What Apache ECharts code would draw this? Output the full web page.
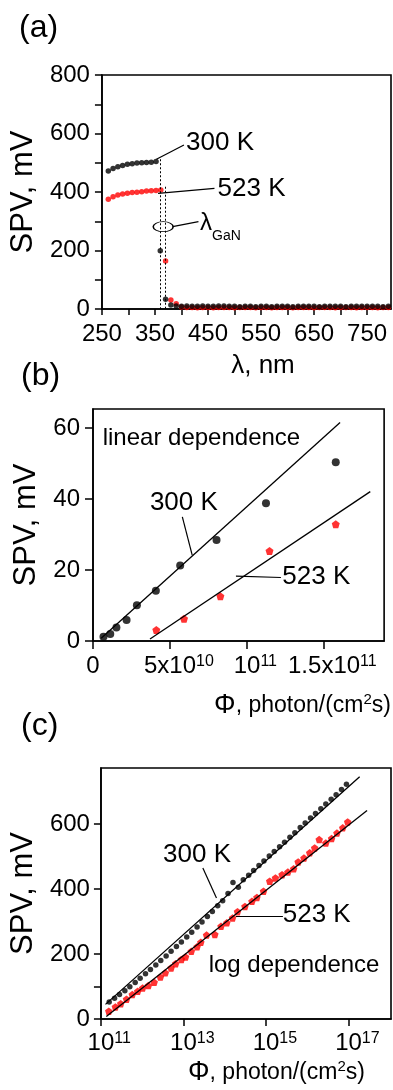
<!DOCTYPE html>
<html>
<head>
<meta charset="utf-8">
<script src="https://cdn.jsdelivr.net/npm/echarts@6/dist/echarts.min.js"></script>
<style>
  html, body { margin: 0; padding: 0; background: #fff; }
  #chart { width: 393px; height: 1090px; }
</style>
</head>
<body>
<div id="chart"></div>
<script>
// (a) SPV spectra, wavelength in nm
const wl300 = [262, 271, 280, 289, 298, 307, 316, 325, 334, 343, 352, 360, 370, 380,
  390, 400, 410, 420, 430, 440, 450, 460, 470, 480, 490, 500, 510, 520, 530, 540, 550,
  560, 570, 580, 590, 600, 610, 620, 630, 640, 650, 660, 670, 680, 690, 700, 710, 720,
  730, 740, 750, 760, 770, 780, 790];
const spv300 = [472, 480, 486, 491, 495, 497, 499, 500, 501, 502, 504, 199, 33, 14,
  10, 9, 10, 9, 9, 10, 9, 9, 10, 10, 9, 9, 8, 9, 9, 8, 9, 9, 8, 9, 9,
  9, 8, 9, 9, 9, 9, 8, 9, 9, 9, 9, 8, 9, 9, 9, 9, 9, 9, 8, 9];
const wl523 = [262, 271, 280, 289, 298, 307, 316, 325, 334, 343, 352, 361, 370, 380,
  390, 400, 410, 420, 430, 440, 450, 460, 470, 480, 490, 500, 510, 520, 530, 540, 550,
  560, 570, 580, 590, 600, 610, 620, 630, 640, 650, 660, 670, 680, 690, 700, 710, 720,
  730, 740, 750, 760, 770, 780, 790];
const spv523 = [375, 384, 390, 393, 396, 398, 399, 401, 403, 404, 405, 407, 164, 31,
  18, 7, 5, 5, 4, 5, 5, 4, 5, 5, 5, 4, 5, 5, 5, 4, 5, 5, 4, 5, 5,
  5, 4, 5, 5, 5, 4, 5, 5, 5, 4, 5, 5, 5, 4, 5, 5, 5, 4, 5, 5];

// (b) linear regime, flux in units of 1e10 photon/(cm2 s)
const fluxLin300 = [0.68, 1.12, 1.52, 2.18, 2.85, 4.08, 5.66, 8.02, 11.23, 15.76];
const spvLin300 = [1.2, 2.0, 3.8, 5.9, 10.1, 14.2, 21.3, 28.5, 38.8, 50.4];
const fluxLin523 = [4.11, 5.91, 8.27, 11.46, 15.76];
const spvLin523 = [3.1, 6.3, 12.6, 25.4, 32.9];
const fitLin300 = [[0.53, 0.76], [16.04, 61.6]];
const fitLin523 = [[3.70, 0.56], [18.0, 42.1]];

// (c) log regime, flux as log10(photon/(cm2 s))
const logFlux300 = [11.20, 11.33, 11.45, 11.58, 11.70, 11.83, 11.95, 12.08, 12.20, 12.33,
  12.45, 12.58, 12.70, 12.83, 12.95, 13.08, 13.20, 13.33, 13.45, 13.58, 13.70, 13.83,
  13.95, 14.08, 14.20, 14.33, 14.45, 14.58, 14.70, 14.83, 14.95, 15.08, 15.20, 15.33,
  15.45, 15.58, 15.70, 15.83, 15.95, 16.08, 16.20, 16.33, 16.45, 16.58, 16.70, 16.83, 16.95];
const spvLog300 = [52, 64, 75, 87, 99, 112, 125, 139, 152, 166, 180, 194, 208, 223, 237,
  252, 267, 283, 298, 315, 331, 348, 364, 386, 420, 405, 428, 442, 457, 472, 486, 501,
  515, 530, 544, 559, 573, 589, 603, 618, 632, 647, 661, 676, 690, 706, 722];
const logFlux523 = [11.19, 11.35, 11.48, 11.62, 11.76, 11.89, 12.01, 12.15, 12.29, 12.44,
  12.56, 12.70, 12.81, 12.95, 13.05, 13.19, 13.33, 13.42, 13.56, 13.76, 13.91, 14.05,
  14.19, 14.31, 14.49, 14.66, 14.78, 14.94, 15.09, 15.23, 15.39, 15.53, 15.67, 15.78,
  15.92, 16.06, 16.18, 16.29, 16.45, 16.59, 16.72, 16.86, 16.98];
const spvLog523 = [24, 37, 47, 61, 75, 85, 95, 103, 113, 129, 142, 157, 170, 183, 191,
  208, 222, 236, 258, 260, 285, 296, 311, 330, 346, 362, 374, 393, 424, 434, 444, 452,
  462, 483, 495, 511, 526, 552, 541, 555, 572, 588, 606];
const fitLog300 = [[11.11, 45], [17.27, 745]];
const fitLog523 = [[11.13, 8], [17.45, 641]];

// tick values
const ticksA_x = [250, 300, 350, 400, 450, 500, 550, 600, 650, 700, 750];
const labelsA_x = [250, 350, 450, 550, 650, 750];
const ticksA_y = [0, 100, 200, 300, 400, 500, 600, 700, 800];
const labelsA_y = [0, 200, 400, 600, 800];
const ticksB_x = [0, 5, 10, 15];
const labelsB_x = [0, 5, 10];
const labelsB_xLast = [15];
const ticksB_y = [0, 20, 40, 60];
const ticksC_x = [11, 13, 15, 17];
const ticksC_y = [0, 100, 200, 400, 600];
const labelsC_y = [0, 200, 400, 600];

const FONT = 'Liberation Sans';
const RED = '#ff0000';
const PENTAGON = 'path://M10,0 L19.51,6.91 L15.88,18.09 L4.12,18.09 L0.49,6.91 Z';

const chart = echarts.init(document.getElementById('chart'));

function zip(xs, ys) {
  return xs.map((x, i) => [x, ys[i]]);
}

function note(coord, text, size) {
  return {
    coord: coord,
    symbol: 'circle',
    symbolSize: 1,
    itemStyle: { color: 'transparent' },
    label: { show: true, position: 'inside', formatter: text, fontSize: size || 26, color: '#000', fontFamily: FONT }
  };
}

function leader(p1, p2, dotted) {
  return [{ coord: p1, lineStyle: { type: dotted ? [2, 2] : 'solid', width: dotted ? 1 : 1.2 } }, { coord: p2 }];
}

const markLineBase = {
  silent: true,
  symbol: ['none', 'none'],
  label: { show: false },
  lineStyle: { color: '#000', width: 1.2, type: 'solid' },
  animation: false
};

function axisStyle(tickLen, tickValues, labelValues, margin, formatter) {
  return {
    axisLine: { show: true, onZero: false, lineStyle: { color: '#000', width: 1.6 } },
    axisTick: { show: true, length: tickLen, customValues: tickValues, lineStyle: { color: '#000', width: 1.5 } },
    axisLabel: {
      customValues: labelValues || tickValues,
      hideOverlap: false,
      color: '#000', fontSize: 24, fontFamily: FONT, margin: margin,
      formatter: formatter,
      rich: {
        b: { fontSize: 24, fontFamily: FONT, color: '#000' },
        s: { fontSize: 16, fontFamily: FONT, color: '#000', verticalAlign: 'top' },
        h: { fontSize: 16, fontFamily: FONT, color: 'transparent', verticalAlign: 'top' }
      }
    },
    splitLine: { show: false }
  };
}

// exponent labels: an invisible copy of the superscript on the left keeps the base centred on the tick
function fluxLinLabel(v) {
  if (v === 0) return '{b|0}';
  if (v === 5) return '{h|10}{b|5x10}{s|10}';
  if (v === 10) return '{h|11}{b|10}{s|11}';
  return '{h|11}{b|1.5x10}{s|11}';
}

const phiName = '{p|Φ}{t|, photon/(cm}{s|2}{t|s)}';
const phiRich = {
  p: { fontSize: 27, fontFamily: FONT, color: '#000' },
  t: { fontSize: 23, fontFamily: FONT, color: '#000' },
  s: { fontSize: 15, fontFamily: FONT, color: '#000', verticalAlign: 'top' }
};

const lastLabelAxis = axisStyle(8, [], labelsB_xLast, 13, fluxLinLabel);
lastLabelAxis.axisLine = { show: false };
lastLabelAxis.axisTick = { show: false };

const option = {
  backgroundColor: '#fff',
  animation: false,
  title: [
    { text: '(a)', left: 19, top: 12, padding: 0, textStyle: { fontSize: 32, fontWeight: 'normal', fontFamily: FONT, color: '#000' } },
    { text: '(b)', left: 21, top: 360, padding: 0, textStyle: { fontSize: 32, fontWeight: 'normal', fontFamily: FONT, color: '#000' } },
    { text: '(c)', left: 21, top: 710, padding: 0, textStyle: { fontSize: 32, fontWeight: 'normal', fontFamily: FONT, color: '#000' } }
  ],
  grid: [
    { left: 92, top: 75, width: 299, height: 234, show: true, borderColor: '#000', borderWidth: 1.6 },
    { left: 93, top: 409, width: 298, height: 232, show: true, borderColor: '#000', borderWidth: 1.6 },
    { left: 94, top: 768, width: 297, height: 251, show: true, borderColor: '#000', borderWidth: 1.6 }
  ],
  xAxis: [
    Object.assign({
      type: 'value', gridIndex: 0, min: 250, max: 795, position: 'bottom',
      name: 'λ, nm', nameLocation: 'middle', nameGap: 44,
      nameTextStyle: { fontSize: 26, fontFamily: FONT, color: '#000', padding: [0, 0, 0, 33] }
    }, axisStyle(6, ticksA_x, labelsA_x, 13)),
    Object.assign({
      type: 'value', gridIndex: 1, min: 0, max: 18.9, position: 'bottom',
      name: phiName, nameLocation: 'middle', nameGap: 51,
      nameTextStyle: { padding: [0, 0, 0, 128], rich: phiRich }
    }, axisStyle(8, ticksB_x, labelsB_x, 13, fluxLinLabel)),
    Object.assign({
      type: 'value', gridIndex: 2, min: 11, max: 18.03, position: 'bottom',
      name: phiName, nameLocation: 'middle', nameGap: 40,
      nameTextStyle: { padding: [0, 0, 0, 61], rich: phiRich }
    }, axisStyle(7, ticksC_x, ticksC_x, 12, function (v) {
      return '{h|' + v + '}{b|10}{s|' + v + '}';
    })),
    // second label row for (b) so the 1.5x10^11 label is not dropped as an overlap
    Object.assign({
      type: 'value', gridIndex: 1, min: 0, max: 18.9, position: 'bottom', offset: 0
    }, lastLabelAxis)
  ],
  yAxis: [
    Object.assign({
      type: 'value', gridIndex: 0, min: 0, max: 800,
      name: 'SPV, mV', nameLocation: 'middle', nameGap: 54,
      nameTextStyle: { fontSize: 31, fontFamily: FONT, color: '#000' }
    }, axisStyle(7, ticksA_y, labelsA_y, 12)),
    Object.assign({
      type: 'value', gridIndex: 1, min: 0, max: 65.4,
      name: 'SPV, mV', nameLocation: 'middle', nameGap: 48,
      nameTextStyle: { fontSize: 31, fontFamily: FONT, color: '#000' }
    }, axisStyle(8, ticksB_y, ticksB_y, 13)),
    Object.assign({
      type: 'value', gridIndex: 2, min: 0, max: 772,
      name: 'SPV, mV', nameLocation: 'middle', nameGap: 56,
      nameTextStyle: { fontSize: 31, fontFamily: FONT, color: '#000' }
    }, axisStyle(7, ticksC_y, labelsC_y, 11))
  ],
  series: [
    // (a)
    {
      type: 'scatter', xAxisIndex: 0, yAxisIndex: 0, name: '523 K',
      data: zip(wl523, spv523), symbol: 'circle', symbolSize: 5.5,
      itemStyle: { color: RED }
    },
    {
      type: 'scatter', xAxisIndex: 0, yAxisIndex: 0, name: '300 K',
      data: zip(wl300, spv300), symbol: 'circle', symbolSize: 5.5,
      itemStyle: { color: '#000' },
      markLine: Object.assign({}, markLineBase, {
        data: [
          leader([360, 512], [360, 0], true),
          leader([368.5, 418], [368.5, 0], true),
          leader([352.7, 511.8], [404.6, 560.7]),
          leader([355.8, 395.6], [462.2, 412.7]),
          leader([383.2, 281.4], [432, 298.5])
        ]
      }),
      markPoint: {
        silent: true,
        animation: false,
        data: [
          note([472.6, 567.6], '300 K'),
          note([532, 410], '523 K'),
          {
            coord: [365.5, 281.4], symbol: 'circle', symbolSize: [20, 10],
            itemStyle: { color: 'transparent', borderColor: '#000', borderWidth: 1.1 },
            label: { show: false }
          },
          {
            coord: [434, 292], symbol: 'circle', symbolSize: 1,
            itemStyle: { color: 'transparent' },
            label: {
              show: true, position: 'right', distance: 0, formatter: '{l|λ}{g|GaN}',
              rich: {
                l: { fontSize: 24, fontFamily: FONT, color: '#000' },
                g: { fontSize: 14, fontFamily: FONT, color: '#000', verticalAlign: 'bottom', padding: [0, 0, -8, 0] }
              }
            }
          }
        ]
      }
    },
    // (b)
    {
      type: 'line', xAxisIndex: 1, yAxisIndex: 1, data: fitLin300, symbol: 'none',
      lineStyle: { color: '#000', width: 1.3 }
    },
    {
      type: 'line', xAxisIndex: 1, yAxisIndex: 1, data: fitLin523, symbol: 'none',
      lineStyle: { color: '#000', width: 1.3 }
    },
    {
      type: 'scatter', xAxisIndex: 1, yAxisIndex: 1, name: '300 K',
      data: zip(fluxLin300, spvLin300), symbol: 'circle', symbolSize: 8,
      itemStyle: { color: '#000' },
      markLine: Object.assign({}, markLineBase, {
        data: [
          leader([5.80, 35.0], [6.44, 24.2]),
          leader([9.28, 18.3], [12.2, 17.9])
        ]
      }),
      markPoint: {
        silent: true,
        animation: false,
        data: [
          note([7.04, 57.2], 'linear dependence', 24),
          note([5.9, 38.9], '300 K'),
          note([14.5, 18.0], '523 K')
        ]
      }
    },
    {
      type: 'scatter', xAxisIndex: 1, yAxisIndex: 1, name: '523 K',
      data: zip(fluxLin523, spvLin523), symbol: PENTAGON, symbolSize: 8,
      itemStyle: { color: RED }
    },
    // (c)
    {
      type: 'line', xAxisIndex: 2, yAxisIndex: 2, data: fitLog300, symbol: 'none',
      lineStyle: { color: '#000', width: 1.3 }
    },
    {
      type: 'line', xAxisIndex: 2, yAxisIndex: 2, data: fitLog523, symbol: 'none',
      lineStyle: { color: '#000', width: 1.3 }
    },
    {
      type: 'scatter', xAxisIndex: 2, yAxisIndex: 2, name: '300 K',
      data: zip(logFlux300, spvLog300), symbol: 'circle', symbolSize: 5.5,
      itemStyle: { color: '#000' },
      markLine: Object.assign({}, markLineBase, {
        data: [
          leader([13.47, 464.6], [13.80, 372.3]),
          leader([14.27, 315.7], [15.41, 315.7])
        ]
      }),
      markPoint: {
        silent: true,
        animation: false,
        data: [
          note([13.33, 505.6], '300 K'),
          note([16.23, 321], '523 K'),
          note([15.68, 164], 'log dependence', 24)
        ]
      }
    },
    {
      type: 'scatter', xAxisIndex: 2, yAxisIndex: 2, name: '523 K',
      data: zip(logFlux523, spvLog523), symbol: PENTAGON, symbolSize: 7.5,
      itemStyle: { color: RED }
    }
  ]
};

chart.setOption(option);
</script>
</body>
</html>
